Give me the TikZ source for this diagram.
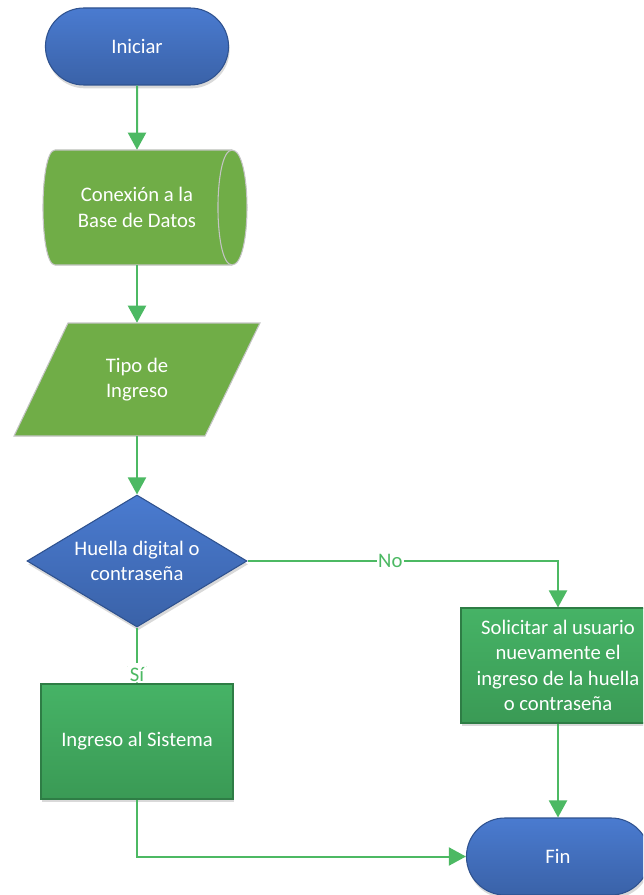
\documentclass[tikz,border=0pt]{standalone}
\usepackage{fontspec}
\setmainfont{Carlito}
\usetikzlibrary{shapes.misc,shapes.geometric,arrows.meta,shadows}

\definecolor{termbluelt}{HTML}{4A7BD0}
\definecolor{termbluedk}{HTML}{3A62A8}
\definecolor{blueedge}{HTML}{2F528F}
\definecolor{datagreen}{HTML}{70AD47}
\definecolor{dataedge}{HTML}{C4C4C4}
\definecolor{procgreenlt}{HTML}{46B366}
\definecolor{procgreendk}{HTML}{3A9A55}
\definecolor{procedge}{HTML}{2E7D45}
\definecolor{flowgreen}{HTML}{4CB963}

\begin{document}
\begin{tikzpicture}[x=0.75pt,y=-0.75pt,
  txt/.style={text=white, font=\fontsize{15.5}{19}\selectfont, align=center},
  softshadow/.style={drop shadow={shadow xshift=0.8pt, shadow yshift=-2.5pt, opacity=0.15, fill=black}},
  terminal/.style={txt, rounded rectangle, minimum width=144pt, minimum height=57.75pt,
    draw=blueedge, line width=0.8pt, top color=termbluelt, bottom color=termbluedk, softshadow},
  decision/.style={txt, diamond, shape aspect=1.667, inner sep=0pt, minimum width=165pt,
    minimum height=99pt, draw=blueedge, line width=0.8pt, top color=termbluelt,
    bottom color=termbluedk, softshadow},
  process/.style={txt, rectangle, minimum width=144pt, minimum height=86.25pt, inner sep=2pt,
    draw=procedge, line width=0.8pt, top color=procgreenlt, bottom color=procgreendk, softshadow},
  datashape/.style={fill=datagreen, draw=dataedge, line width=0.8pt},
  textonly/.style={txt, rectangle, draw=none, inner sep=0pt},
  flow/.style={draw=flowgreen, line width=1.5pt, -{Triangle[length=12.75pt,width=13.5pt]}},
  lbl/.style={text=flowgreen, fill=white, font=\fontsize{15.5}{19}\selectfont, inner sep=1pt}
]
\useasboundingbox (0,0) rectangle (643,895);
\clip (0,0) rectangle (643,895);

% stored data (horizontal cylinder) body
\path[datashape] (55,150) -- (232,150)
  .. controls (252,150) and (252,265) .. (232,265)
  -- (55,265)
  .. controls (39,265) and (39,150) .. (55,150) -- cycle;
\draw[draw=dataedge, line width=0.8pt] (232,150) .. controls (213.3,150) and (213.3,265) .. (232,265);

% input / output parallelogram
\path[datashape] (68,323) -- (260,323) -- (205,436) -- (14,436) -- cycle;

% nodes
\node[terminal] (ini) at (137,46.5) {Iniciar};
\node[textonly, minimum width=120pt, minimum height=86.25pt] (db) at (137,207.5) {Conexión a la\\Base de Datos};
\node[textonly, minimum width=120pt, minimum height=84.75pt] (tipo) at (137,379.5) {Tipo de\\Ingreso};
\node[decision] (dec) at (137,561) {Huella digital o\\contraseña};
\node[process] (ing) at (137,741.5) {Ingreso al Sistema};
\node[process, minimum width=145.5pt] (sol) at (558,665.5) {Solicitar al usuario\\nuevamente el\\ingreso de la huella\\o contraseña};
\node[terminal] (fin) at (558,856.5) {Fin};

% connectors
\draw[flow] (ini) -- (db);
\draw[flow] (db) -- (tipo);
\draw[flow] (tipo) -- (dec);
\draw[flow] (dec.east) -| node[lbl, pos=0.23] {No} (sol.north);
\draw[flow] (dec.south) -- (ing.north)
  node[lbl, anchor=south, inner xsep=1.5pt, inner ysep=0pt, text height=14pt, text depth=0pt, yshift=0.5pt] {Sí};
\draw[flow] (ing.south) |- (fin.west);
\draw[flow] (sol.south) -- (fin.north);
\end{tikzpicture}
\end{document}
